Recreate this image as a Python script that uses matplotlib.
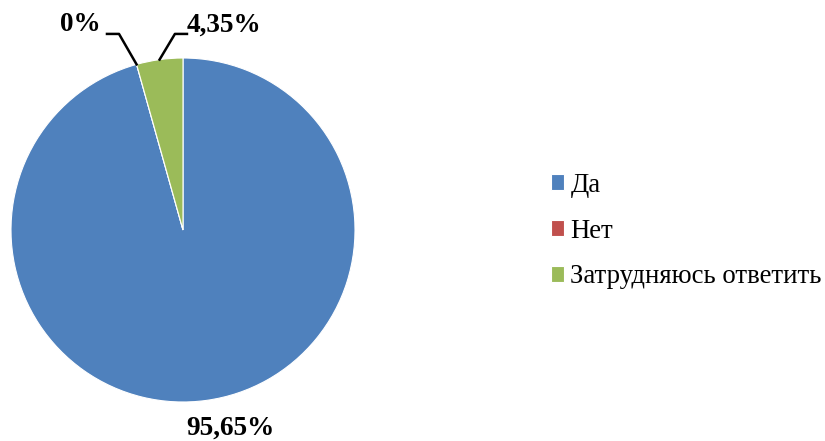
import numpy as np
import matplotlib.pyplot as plt

labels = ['Да', 'Нет', 'Затрудняюсь ответить']
values = [95.65, 0.0, 4.35]
value_text = ['95,65%', '0%', '4,35%']
colors = ['#4F81BD', '#C0504D', '#9BBB59']

plt.rcParams['font.family'] = ['Liberation Serif', 'DejaVu Serif']

fig = plt.figure(figsize=(8.25, 4.41), dpi=100)
ax = fig.add_axes([11 / 825, 39 / 441, 344 / 825, 344 / 441])

wedges, _ = ax.pie(values, colors=colors, startangle=90, counterclock=False,
                   radius=1, wedgeprops=dict(edgecolor='white', linewidth=0.8))
ax.set_xlim(-1, 1)
ax.set_ylim(-1, 1)
ax.set_aspect('equal')
ax.axis('off')

# mid angle of each wedge
mids = []
for w in wedges:
    mids.append(np.deg2rad((w.theta1 + w.theta2) / 2))

tfont = dict(fontsize=19.5, fontweight='bold', ha='center', va='center', clip_on=False)

# Да - label below pie, no leader
ax.text(0.273, -1.151, value_text[0], **tfont)

# Нет - leader to the left
tip = (np.cos(mids[1]), np.sin(mids[1]))
ax.plot([tip[0], -0.372, -0.442], [tip[1], 1.14, 1.14], color='black', lw=1.8, clip_on=False)
ax.text(-0.599, 1.192, value_text[1], **tfont)

# Затрудняюсь - leader to the right
tip = (np.cos(mids[2]), np.sin(mids[2]))
ax.plot([tip[0], -0.047, 0.023], [tip[1], 1.14, 1.14], color='black', lw=1.8, clip_on=False)
ax.text(0.238, 1.192, value_text[2], **tfont)

fig.legend(wedges, labels, loc='center left', bbox_to_anchor=(551 / 825, 1 - 231 / 441),
           frameon=False, fontsize=19.3, handlelength=0.5, handleheight=0.5,
           handletextpad=0.22, labelspacing=0.78, borderpad=0, borderaxespad=0)

fig.savefig('out.png', dpi=100)
